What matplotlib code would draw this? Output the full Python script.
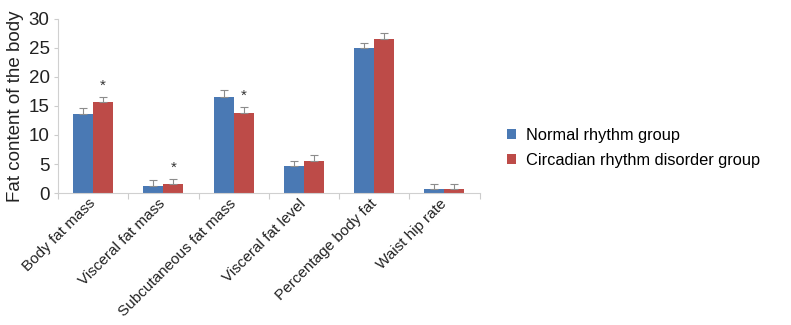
import numpy as np
import matplotlib.pyplot as plt

plt.rcParams['font.family'] = ['Liberation Sans', 'DejaVu Sans']

categories = ['Body fat mass', 'Visceral fat mass', 'Subcutaneous fat mass',
              'Visceral fat level', 'Percentage body fat', 'Waist hip rate']
normal = [13.6, 1.3, 16.6, 4.7, 25.0, 0.7]
normal_err = [1.0, 1.0, 1.1, 0.9, 0.9, 0.9]
circadian = [15.7, 1.5, 13.8, 5.5, 26.6, 0.7]
circadian_err = [0.9, 0.9, 1.0, 1.1, 0.9, 0.9]
significant = [True, True, True, False, False, False]

blue = '#4a79b4'
red = '#bd4b48'

fig = plt.figure(figsize=(7.91, 3.25), dpi=100)
ax = fig.add_axes([0.0733, 0.406, 0.533, 0.536])

x = np.arange(len(categories))
w = 0.285
ekw = dict(ecolor='#8c8c8c', elinewidth=0.8, capsize=3, capthick=0.8)
ax.bar(x - w / 2, normal, w, color=blue, label='Normal rhythm group',
       yerr=[np.zeros(len(x)), normal_err], error_kw=ekw)
ax.bar(x + w / 2, circadian, w, color=red, label='Circadian rhythm disorder group',
       yerr=[np.zeros(len(x)), circadian_err], error_kw=ekw)

# significance markers above the red bars
for i, s in enumerate(significant):
    if s:
        ax.text(x[i] + w / 2, circadian[i] + circadian_err[i] + 0.7, '*',
                ha='center', va='bottom', fontsize=11, color='#333333')

ax.set_xlim(-0.5, len(categories) - 0.5)
ax.set_ylim(0, 30)
ax.set_yticks(range(0, 31, 5))
ax.set_xticks(np.arange(-0.5, len(categories), 1.0))
ax.set_xticklabels([])
ax.set_xticks(x, minor=True)
ax.set_xticklabels(categories, minor=True, rotation=45, ha='right', va='center',
                   rotation_mode='anchor', fontsize=11, color='#222222')
ax.tick_params(axis='x', which='minor', length=0, pad=6)
ax.tick_params(axis='x', which='major', length=4, color='#cccccc')
ax.tick_params(axis='y', length=3, color='#cccccc', labelsize=13.5,
               labelcolor='#222222', pad=3)

for side in ['top', 'right']:
    ax.spines[side].set_visible(False)
ax.spines['left'].set_color('#d0d0d0')
ax.spines['bottom'].set_color('#d0d0d0')

ax.set_ylabel('Fat content of the body', fontsize=13.5, color='#222222', labelpad=3)

ax.legend(loc='center left', bbox_to_anchor=(1.03, 0.26), frameon=False,
          fontsize=11.8, handlelength=0.55, handleheight=0.55, handletextpad=0.6,
          labelspacing=0.6)

fig.savefig('out.png', dpi=100)
